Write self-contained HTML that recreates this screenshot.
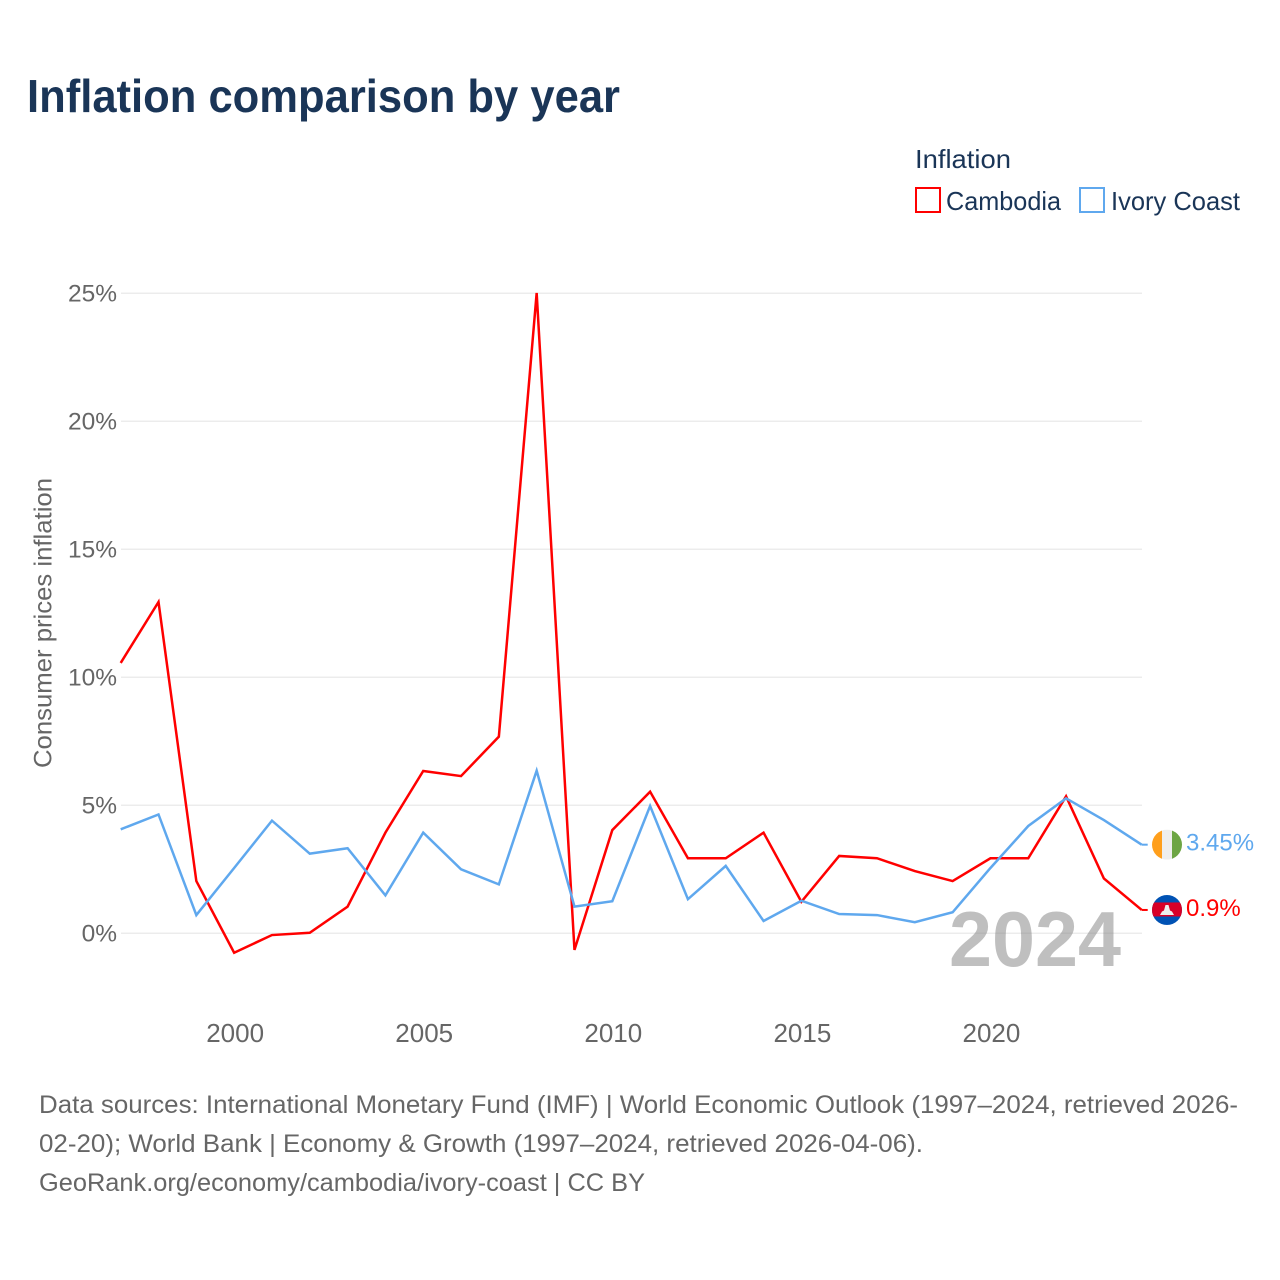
<!DOCTYPE html>
<html lang="en">
<head>
<meta charset="utf-8">
<title>Inflation comparison by year</title>
<style>
html,body{margin:0;padding:0;background:#fff;}
svg{display:block;}
text{font-family:"Liberation Sans",sans-serif;}
</style>
</head>
<body>
<svg id="chart" width="1280" height="1280" viewBox="0 0 1280 1280" xmlns="http://www.w3.org/2000/svg">
  <defs>
    <clipPath id="flag-clip-a"><circle cx="0" cy="0" r="15"></circle></clipPath>
  </defs>
  <text x="27" y="112" font-size="46" font-weight="700" fill="#1a3557" textLength="593" lengthAdjust="spacingAndGlyphs">Inflation comparison by year</text>

  <text x="915" y="168" font-size="26" fill="#1a3557" textLength="96" lengthAdjust="spacingAndGlyphs">Inflation</text>
  <g>
    <rect x="916" y="188" width="24" height="24" fill="none" stroke="#ff0000" stroke-width="2"></rect>
    <text x="946" y="210" font-size="26" fill="#1a3557" textLength="115" lengthAdjust="spacingAndGlyphs">Cambodia</text>
  </g>
  <g>
    <rect x="1080" y="188" width="24" height="24" fill="none" stroke="#5fa8ee" stroke-width="2"></rect>
    <text x="1111" y="210" font-size="26" fill="#1a3557" textLength="129" lengthAdjust="spacingAndGlyphs">Ivory Coast</text>
  </g>

  <text transform="translate(51.5,768) rotate(-90)" font-size="25" fill="#666666" textLength="290" lengthAdjust="spacingAndGlyphs">Consumer prices inflation</text>

  <g id="grid"></g>
  <g id="yticks"></g>
  <g id="xticks"></g>

  <text id="year-watermark" x="1121" y="966" font-size="78" font-weight="700" fill="#808080" fill-opacity="0.5" text-anchor="end" textLength="172" lengthAdjust="spacingAndGlyphs">2024</text>

  <g id="series"></g>
  <g id="ends"></g>

  <g font-size="25" fill="#666666">
    <text x="39" y="1113" textLength="1199" lengthAdjust="spacingAndGlyphs">Data sources: International Monetary Fund (IMF) | World Economic Outlook (1997–2024, retrieved 2026-</text>
    <text x="39" y="1152" textLength="884" lengthAdjust="spacingAndGlyphs">02-20); World Bank | Economy &amp; Growth (1997–2024, retrieved 2026-04-06).</text>
    <text x="39" y="1191" textLength="606" lengthAdjust="spacingAndGlyphs">GeoRank.org/economy/cambodia/ivory-coast | CC BY</text>
  </g>
</svg>
<script>
const years = [1997,1998,1999,2000,2001,2002,2003,2004,2005,2006,2007,2008,2009,2010,2011,2012,2013,2014,2015,2016,2017,2018,2019,2020,2021,2022,2023,2024];
const cambodia = [10.55,12.93,2.03,-0.77,-0.08,0.01,1.03,3.92,6.33,6.13,7.67,25.0,-0.66,4.02,5.52,2.92,2.92,3.92,1.22,3.01,2.92,2.42,2.03,2.92,2.92,5.34,2.13,0.9];
const ivoryCoast = [4.05,4.63,0.70,2.54,4.39,3.10,3.31,1.47,3.92,2.49,1.90,6.34,1.03,1.24,4.96,1.32,2.62,0.47,1.26,0.74,0.70,0.42,0.81,2.54,4.18,5.26,4.41,3.45];
const yTickValues = [0,5,10,15,20,25];
const xTickValues = [2000,2005,2010,2015,2020];

const NS = 'http://www.w3.org/2000/svg';
function xScale(year){ return 120.7 + (year - 1997) * (1141.7 - 120.7) / 27; }
function yScale(value){ return 933 - value * 25.6; }
function make(tag, parent, attrs){
  const el = document.createElementNS(NS, tag);
  for (const k in attrs) el.setAttribute(k, attrs[k]);
  parent.appendChild(el);
  return el;
}

const grid = document.getElementById('grid');
const yticks = document.getElementById('yticks');
const xticks = document.getElementById('xticks');
yTickValues.forEach(function(v){
  const line = make('line', grid, {x1:121, x2:1142, y1:yScale(v)+0.3, y2:yScale(v)+0.3, stroke:'#ececec', 'stroke-width':1.5});
  
  
  const t = make('text', yticks, {x:117, y:yScale(v)+8.5, 'text-anchor':'end', 'font-size':24.5, fill:'#666666'});
  
  
  t.textContent = v + '%';
});
xTickValues.forEach(function(v){
  const t = make('text', xticks, {x:xScale(v)+1, y:1042, 'text-anchor':'middle', 'font-size':26, fill:'#666666'});
  
  
  t.textContent = v;
});

function linePath(values){
  return values.map(function(v,i){ return (i ? 'L' : 'M') + xScale(years[i]).toFixed(2) + ' ' + yScale(v).toFixed(2); }).join(' ');
}
const seriesGroup = document.getElementById('series');
const cambodiaLine = make('path', seriesGroup, {d:linePath(cambodia), fill:'none', stroke:'#ff0000', 'stroke-width':2.5, 'stroke-linejoin':'miter'});


const ivoryLine = make('path', seriesGroup, {d:linePath(ivoryCoast), fill:'none', stroke:'#5fa8ee', 'stroke-width':2.5, 'stroke-linejoin':'miter'});



const ends = document.getElementById('ends');
function endMarker(values, color){
  const last = values[values.length - 1];
  const y = yScale(last);
  const x = xScale(years[years.length - 1]);
  const conn = make('line', ends, {x1:x, x2:x+6, y1:y, y2:y, stroke:color, 'stroke-width':2});
  
  
  const t = make('text', ends, {x:1186, y:y+6, 'font-size':24, fill:color});
  
  
  t.textContent = last + '%';
  const g = make('g', ends, {transform:'translate(1167 ' + y + ')', 'clip-path':'url(#flag-clip-a)'});
  return g;
}

const ivFlag = endMarker(ivoryCoast, '#5fa8ee');


make('rect', ivFlag, {x:-15, y:-15, width:10, height:30, fill:'#ff9f1c'});
make('rect', ivFlag, {x:-5, y:-15, width:10, height:30, fill:'#eeeeee'});
make('rect', ivFlag, {x:5, y:-15, width:10, height:30, fill:'#6da544'});

const kmFlag = endMarker(cambodia, '#ff0000');


make('rect', kmFlag, {x:-15, y:-15, width:30, height:30, fill:'#0052b4'});
make('rect', kmFlag, {x:-15, y:-7.5, width:30, height:14, fill:'#d80027'});
make('polygon', kmFlag, {points:'-7,5 -5,1.5 -3,0.5 -1.5,-5 1.5,-5 3,0.5 5,1.5 7,5', fill:'#eeeeee'});
</script>
</body>
</html>
